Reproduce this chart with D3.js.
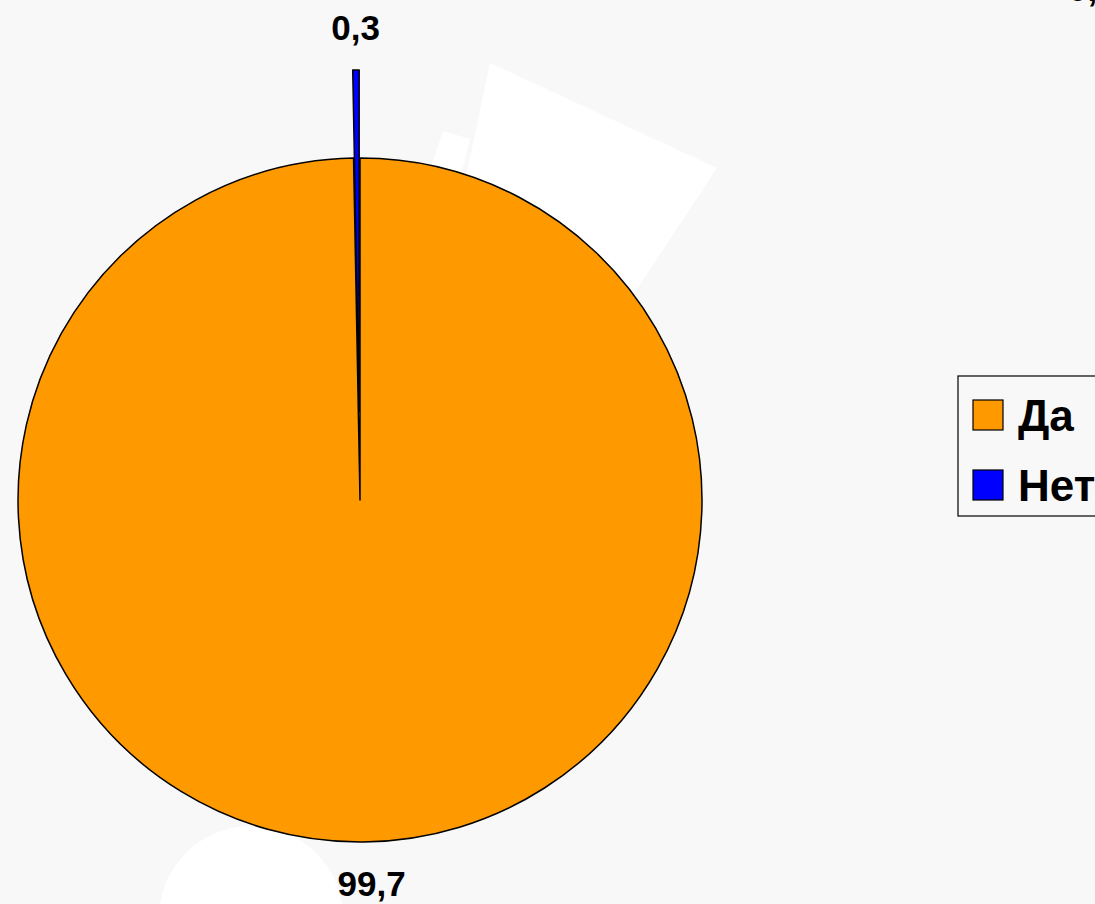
<!DOCTYPE html>
<html>
<head>
<meta charset="utf-8">
<script src="https://cdn.jsdelivr.net/npm/d3@7"></script>
<style>
  html, body { margin: 0; padding: 0; background: #f8f8f8; }
  svg { display: block; }
  text { font-family: Arial, "Liberation Sans", sans-serif; font-weight: bold; fill: #000; }
</style>
</head>
<body>
<svg id="chart"></svg>
<script>

// Chart data
const categories = ['Да', 'Нет'];
const values = [99.7, 0.3];
const valueLabels = ['99,7', '0,3'];
const colors = ['#ff9900', '#0000ff'];

const WIDTH = 1095,
      HEIGHT = 904;

let svg = d3.select('#chart')
              .attr('width', WIDTH)
              .attr('height', HEIGHT);

svg.append('rect')
    .attr('width', WIDTH)
    .attr('height', HEIGHT)
    .attr('fill', '#f8f8f8');

/*
 * Faint white shapes behind the plot
 */
let deco = svg.append('g').attr('fill', '#ffffff');
deco.append('polygon').attr('points', '490,63 717,168 600,345 440,300');
deco.append('polygon').attr('points', '443,131 470,139 440,260 420,200');
deco.append('circle').attr('cx', 251).attr('cy', 918).attr('r', 92);

/*
 * Pie
 */
const cx = 360,
      cy = 500,
      radius = 342,
      explode = [0, 88];

let pie = d3.pie()
            .sort(null)
            .value(d => d.value);

let arcs = pie(categories.map((c, i) => ({ name: c, value: values[i], label: valueLabels[i], color: colors[i] })));

let arc = d3.arc().innerRadius(0).outerRadius(radius);
let labelArc = d3.arc().innerRadius(384).outerRadius(384);

// offset of an exploded slice along its mid angle
function shift(d, i) {
  let a = (d.startAngle + d.endAngle) / 2;
  return [Math.sin(a) * explode[i], -Math.cos(a) * explode[i]];
}

let g = svg.append('g').attr('transform', 'translate(' + cx + ',' + cy + ')');

g.selectAll('path.slice')
    .data(arcs)
  .enter().append('path')
    .attr('class', 'slice')
    .attr('d', arc)
    .attr('transform', (d, i) => 'translate(' + shift(d, i) + ')')
    .attr('fill', d => d.data.color)
    .attr('stroke', '#000')
    .attr('stroke-width', 1.5)
    .attr('stroke-linejoin', 'round');

g.selectAll('text.label')
    .data(arcs)
  .enter().append('text')
    .attr('class', 'label')
    .attr('transform', (d, i) => {
      let c = labelArc.centroid(d), s = shift(d, i);
      return 'translate(' + (c[0] + s[0]) + ',' + (c[1] + s[1]) + ')';
    })
    .attr('text-anchor', 'middle')
    .attr('dx', (d, i) => i === 0 ? 8 : 0)
    .attr('dy', '0.35em')
    .style('font-size', '35px')
    .text(d => d.data.label);

// clipped label at the top right edge
svg.append('text')
    .attr('x', 1068)
    .attr('y', 1)
    .style('font-size', '35px')
    .text('0,3');

/*
 * Legend
 */
let legend = svg.append('g').attr('transform', 'translate(958,376)');

legend.append('rect')
    .attr('width', 220)
    .attr('height', 140)
    .attr('fill', 'none')
    .attr('stroke', '#000')
    .attr('stroke-width', 1.2);

let items = legend.selectAll('g.item')
    .data(categories)
  .enter().append('g')
    .attr('class', 'item')
    .attr('transform', (d, i) => 'translate(15,' + (24 + i * 70) + ')');

items.append('rect')
    .attr('width', 30)
    .attr('height', 30)
    .attr('fill', (d, i) => colors[i])
    .attr('stroke', '#000')
    .attr('stroke-width', 1.2);

items.append('text')
    .attr('x', 45)
    .attr('y', 15)
    .attr('dy', '0.36em')
    .style('font-size', '44px')
    .text(d => d);

</script>
</body>
</html>
